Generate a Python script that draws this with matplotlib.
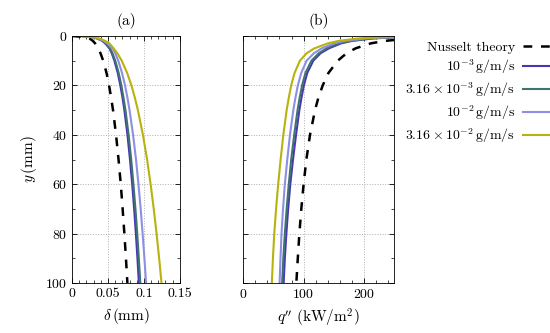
"""
Film thickness and wall heat flux along the plate, simulations vs Nusselt theory.
"""

import matplotlib
matplotlib.use("Agg")
import matplotlib.pyplot as plt
from matplotlib.ticker import MultipleLocator

plt.rcParams["font.family"] = "serif"
plt.rcParams["font.serif"] = ["cmr10", "DejaVu Serif"]
plt.rcParams["mathtext.fontset"] = "cm"
plt.rcParams["axes.formatter.use_mathtext"] = True

# position along the plate (mm)
y_delta = [0, 0.5, 1, 2, 3, 5, 7, 10, 15, 20, 25, 30, 40, 50, 60, 70, 80, 90, 100]
y_q = [0.25, 0.5, 1, 2, 3, 5, 7, 10, 15, 20, 25, 30, 40, 50, 60, 70, 80, 90, 100]

# film thickness (mm)
delta_nusselt = [0, 0.0205, 0.0243, 0.0290, 0.0321, 0.0364, 0.0396, 0.0433, 0.0480, 0.0515,
                 0.0544, 0.0570, 0.0612, 0.0647, 0.0678, 0.0704, 0.0728, 0.0750, 0.0770]
delta_1e3 = [0.012, 0.028, 0.035, 0.042, 0.046, 0.0520, 0.0552, 0.0589, 0.0636, 0.0672,
             0.0702, 0.0728, 0.0771, 0.0806, 0.0837, 0.0864, 0.0888, 0.0910, 0.0930]
delta_316e3 = [0.012, 0.028, 0.035, 0.043, 0.047, 0.0529, 0.0563, 0.0601, 0.0649, 0.0686,
               0.0716, 0.0743, 0.0787, 0.0823, 0.0854, 0.0882, 0.0907, 0.0929, 0.0950]
delta_1e2 = [0.012, 0.029, 0.036, 0.044, 0.049, 0.0564, 0.0601, 0.0643, 0.0696, 0.0737,
             0.0771, 0.0800, 0.0849, 0.0890, 0.0924, 0.0955, 0.0982, 0.1007, 0.1030]
delta_316e2 = [0.011, 0.030, 0.038, 0.046, 0.052, 0.0578, 0.0631, 0.0691, 0.0767, 0.0826,
               0.0874, 0.0916, 0.0986, 0.1044, 0.1093, 0.1137, 0.1176, 0.1212, 0.1245]

# wall heat flux (kW/m^2)
q_nusselt = [395, 331, 278, 234, 211, 186, 171, 156.5, 141, 131.6,
             124.4, 118.9, 110.6, 104.6, 100, 96.2, 93, 90.4, 88]
q_1e3 = [310, 255, 215, 180, 162, 142, 128, 116, 106, 100.5,
         96.5, 93, 87.5, 82.5, 78, 74.5, 71.5, 69, 67]
q_316e3 = [305, 250, 210, 176, 158, 138, 125, 113, 103, 97.5,
           93.5, 90, 84.5, 79.5, 75.5, 72, 69, 66.5, 64.5]
q_1e2 = [300, 245, 203, 168, 150, 130, 117, 105, 96, 90.5,
         86.5, 83, 77.5, 73, 69, 66, 63.5, 61.8, 60.3]
q_316e2 = [290, 230, 190, 158, 140, 118, 105, 94, 85, 79.5,
           75.5, 72, 66.5, 62, 58, 54.5, 51.5, 49.3, 47.5]

labels = [
    r"$10^{-3}\,\mathrm{g/m/s}$",
    r"$3.16\times10^{-3}\,\mathrm{g/m/s}$",
    r"$10^{-2}\,\mathrm{g/m/s}$",
    r"$3.16\times10^{-2}\,\mathrm{g/m/s}$",
]
colors = ["#4a36b0", "#3e7470", "#8e8ee4", "#b8b20e"]


def style_axes(ax):
    ax.set_ylim(100, 0)
    ax.yaxis.set_major_locator(MultipleLocator(20))
    ax.yaxis.set_minor_locator(MultipleLocator(10))
    ax.tick_params(which="both", direction="in", top=True, right=True, labelsize=10)
    ax.tick_params(which="major", length=3.5, width=0.6)
    ax.tick_params(which="minor", length=2, width=0.5)
    ax.grid(True, which="major", linestyle=":", color="#b0b0b0", linewidth=0.7)
    for s in ax.spines.values():
        s.set_linewidth(0.6)


def main():
    fig = plt.figure(figsize=(5.5, 3.33), dpi=100)
    ax1 = fig.add_axes([0.131, 0.150, 0.196, 0.742])
    ax2 = fig.add_axes([0.442, 0.150, 0.275, 0.742])

    # (a) film thickness
    ax1.plot(delta_nusselt, y_delta, color="black", lw=1.8, dashes=(3.5, 3.5),
             label="Nusselt theory")
    for d, c, lab in zip([delta_1e3, delta_316e3, delta_1e2, delta_316e2], colors, labels):
        ax1.plot(d, y_delta, color=c, lw=1.5, label=lab)
    ax1.set_xlim(0, 0.15)
    ax1.set_xticks([0, 0.05, 0.1, 0.15])
    ax1.set_xticklabels(["0", "0.05", "0.1", "0.15"])
    ax1.xaxis.set_minor_locator(MultipleLocator(0.01))
    style_axes(ax1)
    ax1.set_xlabel(r"$\delta\,(\mathrm{mm})$", fontsize=11)
    ax1.set_ylabel(r"$y\,(\mathrm{mm})$", fontsize=11)
    ax1.set_title("(a)", fontsize=11, pad=8)

    # (b) heat flux
    ax2.plot(q_nusselt, y_q, color="black", lw=1.8, dashes=(3.5, 3.5))
    for q, c in zip([q_1e3, q_316e3, q_1e2, q_316e2], colors):
        ax2.plot(q, y_q, color=c, lw=1.5)
    ax2.set_xlim(0, 250)
    ax2.set_xticks([0, 100, 200])
    ax2.xaxis.set_minor_locator(MultipleLocator(20))
    style_axes(ax2)
    ax2.set_yticklabels([])
    ax2.set_xlabel(r"$q''\ (\mathrm{kW/m^2})$", fontsize=11)
    ax2.set_title("(b)", fontsize=11, pad=8)

    h, l = ax1.get_legend_handles_labels()
    fig.legend(h, l, loc="upper left", bbox_to_anchor=(0.714, 0.915), frameon=False,
               markerfirst=False, fontsize=10, handlelength=2.0, labelspacing=0.3,
               handletextpad=0.6)

    fig.savefig("out.png", dpi=100)
    plt.close(fig)


if __name__ == "__main__":
    main()
